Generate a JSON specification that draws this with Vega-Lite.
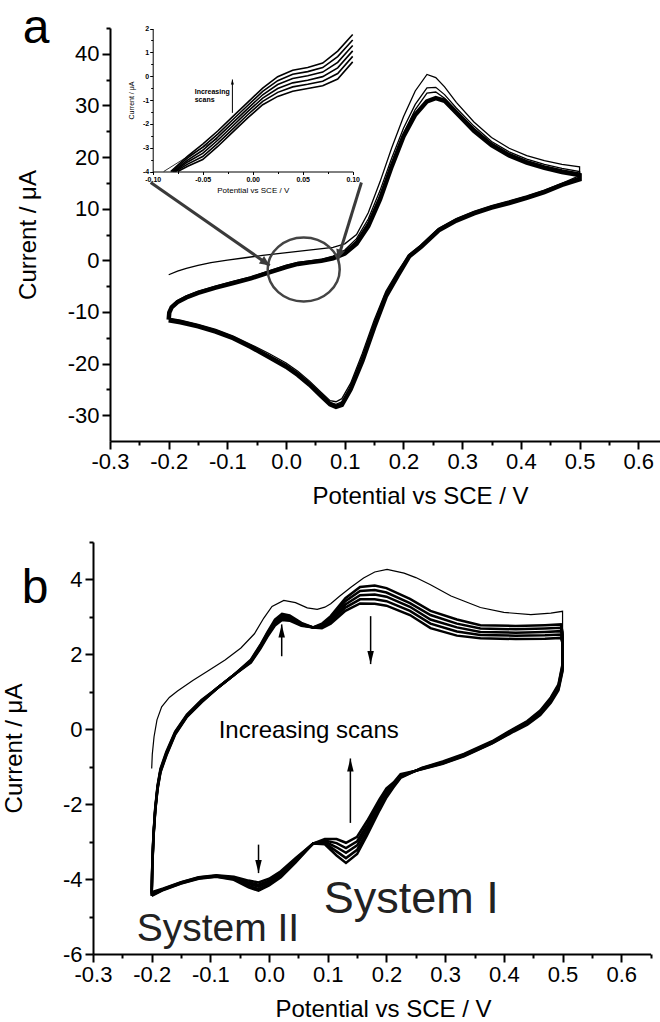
{
"$schema":"https://vega.github.io/schema/vega-lite/v6.json",
"padding":{"left":2,"top":4,"right":0,"bottom":0},
"spacing":33,
"config":{"font":"Liberation Sans","view":{"stroke":null},"axis":{"grid":false,"domainColor":"#000","tickColor":"#000","labelColor":"#000","titleColor":"#000","labelFontWeight":"normal","titleFontWeight":"normal","labelFlush":false,"labelOverlap":false,"labelBound":false}},
"datasets":{
"aCV":[
{"o":1,"v":-0.2,"s2":-11.2,"s3":-11.3,"b":-11.5},
{"o":2,"v":-0.199,"s2":-9.8,"s3":-9.9,"b":-10.1},
{"o":3,"v":-0.195,"s2":-8.8,"s3":-8.9,"b":-9.1},
{"o":4,"v":-0.185,"s2":-7.8,"s3":-7.9,"b":-8.1},
{"o":5,"v":-0.17,"s2":-6.9,"s3":-7.0,"b":-7.2},
{"o":6,"v":-0.15,"s2":-6.0,"s3":-6.1,"b":-6.3},
{"o":7,"v":-0.12,"s2":-5.0,"s3":-5.1,"b":-5.3},
{"o":8,"v":-0.09,"s2":-4.1,"s3":-4.2,"b":-4.4},
{"o":9,"v":-0.06,"s2":-3.2,"s3":-3.3,"b":-3.5},
{"o":10,"v":-0.03,"s2":-2.1,"s3":-2.2,"b":-2.4},
{"o":11,"v":0.0,"s2":-1.0,"s3":-1.1,"b":-1.3},
{"o":12,"v":0.02,"s2":-0.4,"s3":-0.5,"b":-0.7},
{"o":13,"v":0.04,"s2":-0.1,"s3":-0.2,"b":-0.4},
{"o":14,"v":0.06,"s2":0.2,"s3":0.1,"b":-0.1},
{"o":15,"v":0.08,"s2":0.8,"s3":0.6,"b":0.4},
{"o":15.01,"v":-0.2,"s1":-2.8},
{"o":15.02,"v":-0.185,"s1":-2.1},
{"o":15.03,"v":-0.17,"s1":-1.55},
{"o":15.04,"v":-0.15,"s1":-1.0},
{"o":15.05,"v":-0.128,"s1":-0.45},
{"o":15.06,"v":-0.1,"s1":0.05},
{"o":15.07,"v":-0.07,"s1":0.5},
{"o":15.08,"v":-0.04,"s1":0.95},
{"o":15.09,"v":-0.01,"s1":1.35},
{"o":15.1,"v":0.02,"s1":1.75},
{"o":15.11,"v":0.05,"s1":2.1},
{"o":15.12,"v":0.08,"s1":2.5},
{"o":16,"v":0.1,"s1":3.2,"s2":2.0,"s3":1.7,"b":1.3},
{"o":17,"v":0.12,"s1":5.0,"s2":4.2,"s3":3.8,"b":3.2},
{"o":18,"v":0.14,"s1":9.2,"s2":8.0,"s3":7.4,"b":6.6},
{"o":19,"v":0.16,"s1":15.2,"s2":13.5,"s3":12.6,"b":11.8},
{"o":20,"v":0.18,"s1":21.8,"s2":19.8,"s3":18.8,"b":18.2},
{"o":21,"v":0.2,"s1":27.8,"s2":25.6,"s3":24.6,"b":24.0},
{"o":22,"v":0.22,"s1":32.8,"s2":30.2,"s3":29.2,"b":28.2},
{"o":23,"v":0.24,"s1":36.0,"s2":33.4,"s3":32.4,"b":30.8},
{"o":24,"v":0.255,"s1":35.4,"s2":33.5,"s3":32.6,"b":31.4},
{"o":25,"v":0.27,"s1":33.6,"s2":32.1,"s3":31.4,"b":30.9},
{"o":26,"v":0.29,"s1":30.6,"s2":29.5,"s3":29.0,"b":28.6},
{"o":27,"v":0.32,"s1":26.8,"s2":26.0,"s3":25.6,"b":25.1},
{"o":28,"v":0.35,"s1":23.8,"s2":23.0,"s3":22.7,"b":22.3},
{"o":29,"v":0.38,"s1":21.7,"s2":21.0,"s3":20.7,"b":20.3},
{"o":30,"v":0.41,"s1":20.3,"s2":19.6,"s3":19.3,"b":18.9},
{"o":31,"v":0.44,"s1":19.3,"s2":18.6,"s3":18.3,"b":17.9},
{"o":32,"v":0.47,"s1":18.6,"s2":17.8,"s3":17.5,"b":17.1},
{"o":33,"v":0.5,"s1":18.1,"s2":17.2,"s3":16.9,"b":16.5},
{"o":34,"v":0.5,"s1":16.4,"s2":16.1,"s3":15.9,"b":15.7},
{"o":35,"v":0.47,"s1":14.9,"s2":14.8,"s3":14.7,"b":14.6},
{"o":36,"v":0.44,"s1":13.6,"s2":13.4,"s3":13.3,"b":13.2},
{"o":37,"v":0.41,"s1":12.5,"s2":12.3,"s3":12.2,"b":12.1},
{"o":38,"v":0.38,"s1":11.5,"s2":11.3,"s3":11.2,"b":11.1},
{"o":39,"v":0.35,"s1":10.6,"s2":10.4,"s3":10.3,"b":10.2},
{"o":40,"v":0.32,"s1":9.5,"s2":9.3,"s3":9.2,"b":9.1},
{"o":41,"v":0.29,"s1":8.1,"s2":7.9,"s3":7.8,"b":7.7},
{"o":42,"v":0.26,"s1":6.2,"s2":6.0,"s3":5.9,"b":5.8},
{"o":43,"v":0.23,"s1":3.0,"s2":2.8,"s3":2.7,"b":2.6},
{"o":44,"v":0.21,"s1":1.2,"s2":1.0,"s3":0.9,"b":0.8},
{"o":45,"v":0.19,"s1":-2.2,"s2":-2.5,"s3":-2.7,"b":-3.0},
{"o":46,"v":0.17,"s1":-6.0,"s2":-6.4,"s3":-6.7,"b":-7.0},
{"o":47,"v":0.15,"s1":-11.6,"s2":-12.2,"s3":-12.6,"b":-13.0},
{"o":48,"v":0.13,"s1":-18.0,"s2":-18.7,"s3":-19.1,"b":-19.5},
{"o":49,"v":0.11,"s1":-23.8,"s2":-24.4,"s3":-24.7,"b":-25.0},
{"o":50,"v":0.095,"s1":-26.8,"s2":-27.4,"s3":-27.7,"b":-28.0},
{"o":51,"v":0.085,"s1":-27.4,"s2":-27.9,"s3":-28.2,"b":-28.4},
{"o":52,"v":0.075,"s1":-27.2,"s2":-27.5,"s3":-27.7,"b":-27.9},
{"o":53,"v":0.06,"s1":-25.6,"s2":-25.9,"s3":-26.1,"b":-26.3},
{"o":54,"v":0.04,"s1":-23.4,"s2":-23.7,"s3":-23.9,"b":-24.1},
{"o":55,"v":0.02,"s1":-21.5,"s2":-21.8,"s3":-22.0,"b":-22.2},
{"o":56,"v":0.0,"s1":-19.9,"s2":-20.2,"s3":-20.4,"b":-20.6},
{"o":57,"v":-0.03,"s1":-18.0,"s2":-18.3,"s3":-18.5,"b":-18.7},
{"o":58,"v":-0.06,"s1":-16.3,"s2":-16.5,"s3":-16.7,"b":-16.8},
{"o":59,"v":-0.09,"s1":-14.7,"s2":-14.9,"s3":-15.0,"b":-15.1},
{"o":60,"v":-0.12,"s1":-13.4,"s2":-13.6,"s3":-13.7,"b":-13.8},
{"o":61,"v":-0.15,"s1":-12.4,"s2":-12.6,"s3":-12.7,"b":-12.8},
{"o":62,"v":-0.18,"s1":-11.6,"s2":-11.8,"s3":-11.9,"b":-12.0},
{"o":63,"v":-0.2,"s1":-11.2,"s2":-11.3,"s3":-11.5,"b":-11.6}
],
"aIn":[
{"v":-0.075,"l1":-4.0},
{"v":-0.0773,"l2":-4.0},
{"v":-0.0784,"l3":-4.0},
{"v":-0.0796,"l4":-4.0},
{"v":-0.0808,"l5":-4.0},
{"v":-0.082,"l6":-4.0},
{"v":-0.065,"l1":-3.78,"l2":-3.69,"l3":-3.6,"l4":-3.52,"l5":-3.43,"l6":-3.35},
{"v":-0.05,"l1":-3.5,"l2":-3.37,"l3":-3.24,"l4":-3.11,"l5":-2.98,"l6":-2.85},
{"v":-0.035,"l1":-2.95,"l2":-2.82,"l3":-2.69,"l4":-2.56,"l5":-2.43,"l6":-2.3},
{"v":-0.02,"l1":-2.35,"l2":-2.22,"l3":-2.09,"l4":-1.96,"l5":-1.83,"l6":-1.7},
{"v":-0.005,"l1":-1.75,"l2":-1.62,"l3":-1.49,"l4":-1.36,"l5":-1.23,"l6":-1.1},
{"v":0.01,"l1":-1.2,"l2":-1.06,"l3":-0.92,"l4":-0.78,"l5":-0.64,"l6":-0.5},
{"v":0.025,"l1":-0.85,"l2":-0.68,"l3":-0.52,"l4":-0.35,"l5":-0.19,"l6":-0.02},
{"v":0.04,"l1":-0.63,"l2":-0.45,"l3":-0.28,"l4":-0.1,"l5":0.08,"l6":0.25},
{"v":0.055,"l1":-0.52,"l2":-0.34,"l3":-0.17,"l4":0.02,"l5":0.19,"l6":0.36},
{"v":0.07,"l1":-0.4,"l2":-0.21,"l3":-0.02,"l4":0.17,"l5":0.36,"l6":0.55},
{"v":0.085,"l1":-0.12,"l2":0.11,"l3":0.35,"l4":0.58,"l5":0.82,"l6":1.05},
{"v":0.1,"l1":0.6,"l2":0.83,"l3":1.06,"l4":1.29,"l5":1.52,"l6":1.75}
],
"bCV":[
{"o":1,"v":-0.2,"a":-4.35,"b":-4.38,"c":-4.4,"d":-4.43,"e":-4.45},
{"o":2,"v":-0.199,"a":-3.6,"b":-3.63,"c":-3.65,"d":-3.68,"e":-3.7},
{"o":3,"v":-0.197,"a":-2.8,"b":-2.83,"c":-2.85,"d":-2.88,"e":-2.9},
{"o":4,"v":-0.194,"a":-2.1,"b":-2.13,"c":-2.15,"d":-2.18,"e":-2.2},
{"o":5,"v":-0.19,"a":-1.5,"b":-1.53,"c":-1.55,"d":-1.58,"e":-1.6},
{"o":6,"v":-0.185,"a":-1.05,"b":-1.08,"c":-1.1,"d":-1.13,"e":-1.15},
{"o":7,"v":-0.175,"a":-0.6,"b":-0.63,"c":-0.65,"d":-0.68,"e":-0.7},
{"o":8,"v":-0.16,"a":-0.06,"b":-0.08,"c":-0.1,"d":-0.12,"e":-0.14},
{"o":9,"v":-0.14,"a":0.39,"b":0.37,"c":0.36,"d":0.34,"e":0.33},
{"o":10,"v":-0.115,"a":0.78,"b":0.76,"c":0.75,"d":0.73,"e":0.72},
{"o":11,"v":-0.088,"a":1.1,"b":1.1,"c":1.1,"d":1.1,"e":1.1},
{"o":12,"v":-0.06,"a":1.45,"b":1.45,"c":1.45,"d":1.45,"e":1.45},
{"o":13,"v":-0.031,"a":1.78,"b":1.8,"c":1.82,"d":1.84,"e":1.86},
{"o":14,"v":-0.015,"a":2.15,"b":2.18,"c":2.2,"d":2.23,"e":2.25},
{"o":15,"v":-0.003,"a":2.47,"b":2.5,"c":2.53,"d":2.56,"e":2.59},
{"o":16,"v":0.01,"a":2.77,"b":2.81,"c":2.85,"d":2.89,"e":2.93},
{"o":17,"v":0.022,"a":2.92,"b":2.96,"c":3.0,"d":3.04,"e":3.08},
{"o":18,"v":0.035,"a":2.9,"b":2.94,"c":2.97,"d":3.0,"e":3.04},
{"o":19,"v":0.055,"a":2.76,"b":2.78,"c":2.8,"d":2.82,"e":2.84},
{"o":20,"v":0.075,"a":2.72,"b":2.72,"c":2.72,"d":2.72,"e":2.72},
{"o":21,"v":0.09,"a":2.82,"b":2.79,"c":2.76,"d":2.73,"e":2.7},
{"o":22,"v":0.105,"a":3.02,"b":2.97,"c":2.92,"d":2.87,"e":2.82},
{"o":23,"v":0.13,"a":3.5,"b":3.42,"c":3.33,"d":3.25,"e":3.16},
{"o":24,"v":0.155,"a":3.8,"b":3.69,"c":3.58,"d":3.47,"e":3.36},
{"o":25,"v":0.18,"a":3.84,"b":3.72,"c":3.6,"d":3.47,"e":3.35},
{"o":26,"v":0.2,"a":3.77,"b":3.65,"c":3.54,"d":3.42,"e":3.3},
{"o":27,"v":0.24,"a":3.48,"b":3.37,"c":3.27,"d":3.16,"e":3.05},
{"o":28,"v":0.275,"a":3.16,"b":3.05,"c":2.93,"d":2.82,"e":2.7},
{"o":29,"v":0.32,"a":2.93,"b":2.82,"c":2.72,"d":2.61,"e":2.5},
{"o":30,"v":0.36,"a":2.78,"b":2.69,"c":2.6,"d":2.52,"e":2.43},
{"o":31,"v":0.42,"a":2.76,"b":2.67,"c":2.58,"d":2.5,"e":2.41},
{"o":32,"v":0.47,"a":2.78,"b":2.69,"c":2.6,"d":2.51,"e":2.42},
{"o":33,"v":0.497,"a":2.8,"b":2.71,"c":2.62,"d":2.53,"e":2.44},
{"o":34,"v":0.5,"a":2.6,"b":2.53,"c":2.45,"d":2.38,"e":2.3},
{"o":35,"v":0.5,"a":1.75,"b":1.7,"c":1.65,"d":1.6,"e":1.55},
{"o":36,"v":0.493,"a":1.2,"b":1.16,"c":1.12,"d":1.08,"e":1.04},
{"o":37,"v":0.48,"a":0.85,"b":0.82,"c":0.78,"d":0.75,"e":0.71},
{"o":38,"v":0.462,"a":0.5,"b":0.47,"c":0.44,"d":0.41,"e":0.38},
{"o":39,"v":0.44,"a":0.22,"b":0.2,"c":0.17,"d":0.15,"e":0.12},
{"o":40,"v":0.417,"a":0.02,"b":0.0,"c":-0.02,"d":-0.04,"e":-0.06},
{"o":41,"v":0.38,"a":-0.32,"b":-0.34,"c":-0.35,"d":-0.37,"e":-0.38},
{"o":42,"v":0.332,"a":-0.66,"b":-0.68,"c":-0.69,"d":-0.71,"e":-0.72},
{"o":43,"v":0.296,"a":-0.86,"b":-0.88,"c":-0.89,"d":-0.91,"e":-0.92},
{"o":44,"v":0.26,"a":-1.03,"b":-1.04,"c":-1.05,"d":-1.06,"e":-1.07},
{"o":45,"v":0.224,"a":-1.3,"b":-1.28,"c":-1.25,"d":-1.23,"e":-1.2},
{"o":45.5,"v":0.212,"a":-1.55,"b":-1.52,"c":-1.48,"d":-1.45,"e":-1.42},
{"o":46,"v":0.2,"a":-1.82,"b":-1.76,"c":-1.7,"d":-1.64,"e":-1.58},
{"o":47,"v":0.188,"a":-2.17,"b":-2.1,"c":-2.02,"d":-1.95,"e":-1.87},
{"o":48,"v":0.167,"a":-2.83,"b":-2.74,"c":-2.64,"d":-2.55,"e":-2.45},
{"o":49,"v":0.15,"a":-3.33,"b":-3.22,"c":-3.1,"d":-2.99,"e":-2.87},
{"o":50,"v":0.131,"a":-3.57,"b":-3.44,"c":-3.3,"d":-3.17,"e":-3.03},
{"o":51,"v":0.115,"a":-3.37,"b":-3.26,"c":-3.15,"d":-3.04,"e":-2.93},
{"o":52,"v":0.095,"a":-3.07,"b":-3.04,"c":-3.0,"d":-2.97,"e":-2.93},
{"o":53,"v":0.075,"a":-3.05,"b":-3.05,"c":-3.05,"d":-3.05,"e":-3.05},
{"o":54,"v":0.045,"a":-3.44,"b":-3.47,"c":-3.5,"d":-3.53,"e":-3.56},
{"o":55,"v":0.02,"a":-3.79,"b":-3.83,"c":-3.87,"d":-3.91,"e":-3.95},
{"o":56,"v":0.0,"a":-3.99,"b":-4.04,"c":-4.08,"d":-4.13,"e":-4.17},
{"o":57,"v":-0.018,"a":-4.09,"b":-4.15,"c":-4.2,"d":-4.26,"e":-4.31},
{"o":58,"v":-0.035,"a":-4.04,"b":-4.09,"c":-4.13,"d":-4.18,"e":-4.22},
{"o":59,"v":-0.06,"a":-3.94,"b":-3.96,"c":-3.98,"d":-4.0,"e":-4.02},
{"o":60,"v":-0.09,"a":-3.9,"b":-3.91,"c":-3.92,"d":-3.93,"e":-3.94},
{"o":61,"v":-0.12,"a":-3.95,"b":-3.96,"c":-3.97,"d":-3.98,"e":-3.99},
{"o":62,"v":-0.15,"a":-4.08,"b":-4.09,"c":-4.1,"d":-4.11,"e":-4.12},
{"o":63,"v":-0.18,"a":-4.25,"b":-4.26,"c":-4.27,"d":-4.28,"e":-4.29},
{"o":64,"v":-0.2,"a":-4.35,"b":-4.38,"c":-4.4,"d":-4.43,"e":-4.45}
],
"bS":[
{"o":1,"v":-0.2,"i":-1.05},{"o":2,"v":-0.199,"i":-0.67},{"o":3,"v":-0.196,"i":-0.2},{"o":4,"v":-0.191,"i":0.25},
{"o":5,"v":-0.183,"i":0.6},{"o":6,"v":-0.17,"i":0.85},{"o":7,"v":-0.156,"i":1.02},{"o":8,"v":-0.13,"i":1.3},
{"o":9,"v":-0.105,"i":1.55},{"o":10,"v":-0.075,"i":1.85},{"o":11,"v":-0.048,"i":2.17},{"o":12,"v":-0.025,"i":2.55},
{"o":13,"v":-0.009,"i":2.97},{"o":14,"v":0.005,"i":3.28},{"o":15,"v":0.025,"i":3.44},{"o":16,"v":0.045,"i":3.38},
{"o":17,"v":0.065,"i":3.24},{"o":18,"v":0.082,"i":3.2},{"o":19,"v":0.095,"i":3.26},{"o":20,"v":0.105,"i":3.35},
{"o":21,"v":0.12,"i":3.55},{"o":22,"v":0.14,"i":3.8},{"o":23,"v":0.161,"i":4.04},{"o":24,"v":0.18,"i":4.2},
{"o":25,"v":0.201,"i":4.27},{"o":26,"v":0.23,"i":4.17},{"o":27,"v":0.25,"i":4.05},{"o":28,"v":0.275,"i":3.86},
{"o":29,"v":0.31,"i":3.56},{"o":30,"v":0.36,"i":3.25},{"o":31,"v":0.4,"i":3.12},{"o":32,"v":0.446,"i":3.06},
{"o":33,"v":0.48,"i":3.1},{"o":34,"v":0.5,"i":3.15},{"o":35,"v":0.5,"i":1.75}
],
"bArr":[
{"v":0.0215,"i":1.95,"i2":2.8,"dir":"up"},
{"v":0.173,"i":3.02,"i2":1.74,"dir":"down"},
{"v":0.1385,"i":-2.5,"i2":-0.78,"dir":"up"},
{"v":-0.018,"i":-3.08,"i2":-3.84,"dir":"down"}
]
},
"vconcat":[
{
"width":567,"height":413,
"resolve":{"scale":{"x":"independent","y":"independent"},"axis":{"x":"independent","y":"independent"}},
"layer":[
{"data":{"name":"aCV"},
 "transform":[{"fold":["s1","s2","s3"],"as":["scan","i"]},{"filter":"isValid(datum.i)"}],
 "mark":{"type":"line","color":"#000","strokeWidth":1.3},
 "encoding":{
  "x":{"field":"v","type":"quantitative","scale":{"domain":[-0.3,0.637],"range":[17,567],"nice":false,"zero":false},
   "axis":{"orient":"bottom","values":[-0.3,-0.2,-0.1,0,0.1,0.2,0.3,0.4,0.5,0.6],"labelExpr":"(datum.value < -0.001 ? '-' : '') + format(abs(datum.value), '.1f')","tickSize":8,"tickWidth":2,"domainWidth":2,"labelFontSize":22,"labelPadding":2,"title":"Potential vs SCE / V","titleFontSize":24,"titlePadding":12,"titleX":327}},
  "y":{"field":"i","type":"quantitative","scale":{"domain":[-35,45],"nice":false,"zero":false},
   "axis":{"orient":"left","offset":-17,"values":[-30,-20,-10,0,10,20,30,40],"labelExpr":"(datum.value < 0 ? '-' : '') + format(abs(datum.value), 'd')","tickSize":8,"tickWidth":2,"domainWidth":2,"labelFontSize":22,"labelPadding":3,"title":"Current / μA","titleFontSize":24,"titlePadding":27}},
  "detail":{"field":"scan"},
  "order":{"field":"o","type":"quantitative"}}},
{"data":{"name":"aCV"},
 "transform":[{"filter":"isValid(datum.b)"}],
 "mark":{"type":"line","color":"#000","strokeWidth":4.5},
 "encoding":{
  "x":{"field":"v","type":"quantitative","scale":{"domain":[-0.3,0.637],"range":[17,567],"nice":false,"zero":false},
   "axis":{"orient":"bottom","values":[-0.25,-0.15,-0.05,0.05,0.15,0.25,0.35,0.45,0.55],"labels":false,"domain":false,"tickSize":4,"tickWidth":2,"title":null}},
  "y":{"field":"b","type":"quantitative","scale":{"domain":[-35,45],"nice":false,"zero":false},
   "axis":{"orient":"left","offset":-17,"values":[-25,-15,-5,5,15,25,35,45],"labels":false,"domain":false,"tickSize":4,"tickWidth":2,"title":null}},
  "order":{"field":"o","type":"quantitative"}}},
{"data":{"values":[{"v":0.03,"i":-1.78}]},
 "mark":{"type":"point","shape":"M-1,0A1,0.89,0,1,1,1,0A1,0.89,0,1,1,-1,0Z","size":5184,"color":"#444","strokeWidth":2.5,"filled":false,"opacity":1},
 "encoding":{
  "x":{"field":"v","type":"quantitative","scale":{"domain":[-0.3,0.637],"range":[17,567],"nice":false,"zero":false},"axis":null},
  "y":{"field":"i","type":"quantitative","scale":{"domain":[-35,45],"nice":false,"zero":false},"axis":null}}},
{"data":{"values":[{"v":-0.2307,"i":15.07,"v2":-0.028,"i2":-1.0},{"v":0.1283,"i":15.07,"v2":0.0879,"i2":0.16}]},
 "mark":{"type":"rule","color":"#3a3a3a","strokeWidth":3},
 "encoding":{
  "x":{"field":"v","type":"quantitative","scale":{"domain":[-0.3,0.637],"range":[17,567],"nice":false,"zero":false},"axis":null},
  "y":{"field":"i","type":"quantitative","scale":{"domain":[-35,45],"nice":false,"zero":false},"axis":null},
  "x2":{"field":"v2"},"y2":{"field":"i2"}}},
{"data":{"values":[{"v":-0.028,"i":-1.0}]},
 "mark":{"type":"point","shape":"M0,0L-1,0.45L-1,-0.45Z","size":400,"angle":35,"filled":true,"color":"#3a3a3a","opacity":1},
 "encoding":{
  "x":{"field":"v","type":"quantitative","scale":{"domain":[-0.3,0.637],"range":[17,567],"nice":false,"zero":false},"axis":null},
  "y":{"field":"i","type":"quantitative","scale":{"domain":[-35,45],"nice":false,"zero":false},"axis":null}}},
{"data":{"values":[{"v":0.0879,"i":0.16}]},
 "mark":{"type":"point","shape":"M0,0L-1,0.45L-1,-0.45Z","size":400,"angle":107,"filled":true,"color":"#3a3a3a","opacity":1},
 "encoding":{
  "x":{"field":"v","type":"quantitative","scale":{"domain":[-0.3,0.637],"range":[17,567],"nice":false,"zero":false},"axis":null},
  "y":{"field":"i","type":"quantitative","scale":{"domain":[-35,45],"nice":false,"zero":false},"axis":null}}},
{"data":{"name":"aIn"},
 "transform":[{"fold":["l1","l2","l3","l4","l5","l6"],"as":["ln","iv"]},{"filter":"isValid(datum.iv)"}],
 "mark":{"type":"line","color":"#000","strokeWidth":1.6},
 "encoding":{
  "x":{"field":"v","type":"quantitative","scale":{"domain":[-0.1,0.1],"range":[59.7,259.7],"nice":false,"zero":false},
   "axis":{"orient":"bottom","offset":-269.5,"values":[-0.1,-0.05,0,0.05,0.1],"labelExpr":"(datum.value < -0.001 ? '-' : '') + format(abs(datum.value), '.2f')","tickSize":3,"tickWidth":1,"domainWidth":1,"labelFontSize":7,"labelFontWeight":"bold","labelPadding":1,"title":"Potential vs SCE / V","titleFontSize":8,"titlePadding":4}},
  "y":{"field":"iv","type":"quantitative","scale":{"domain":[-4,2],"range":[143.5,0.5],"nice":false,"zero":false},
   "axis":{"orient":"left","offset":-59.7,"values":[-4,-3,-2,-1,0,1,2],"labelExpr":"(datum.value < 0 ? '-' : '') + format(abs(datum.value), 'd')","tickSize":3,"tickWidth":1,"domainWidth":1,"labelFontSize":7,"labelFontWeight":"bold","labelPadding":1,"title":"Current / μA","titleFontSize":7,"titlePadding":8}},
  "detail":{"field":"ln"}}},
{"data":{"values":[{"v":-0.089,"i":-4.0},{"v":-0.07,"i":-3.5},{"v":-0.05,"i":-3.0},{"v":-0.035,"i":-2.62}]},
 "mark":{"type":"line","color":"#000","strokeWidth":0.8},
 "encoding":{
  "x":{"field":"v","type":"quantitative","scale":{"domain":[-0.1,0.1],"range":[59.7,259.7],"nice":false,"zero":false},
   "axis":{"orient":"bottom","offset":-269.5,"values":[-0.075,-0.025,0.025,0.075],"labels":false,"domain":false,"tickSize":2,"tickWidth":1,"title":null}},
  "y":{"field":"i","type":"quantitative","scale":{"domain":[-4,2],"range":[143.5,0.5],"nice":false,"zero":false},
   "axis":{"orient":"left","offset":-59.7,"values":[-3.5,-2.5,-1.5,-0.5,0.5,1.5],"labels":false,"domain":false,"tickSize":2,"tickWidth":1,"title":null}}}},
{"data":{"values":[{"v":-0.058,"i":-0.75,"t":"Increasing scans"}]},
 "mark":{"type":"text","align":"left","baseline":"alphabetic","fontSize":7,"fontWeight":"bold","lineBreak":" ","lineHeight":8,"color":"#000"},
 "encoding":{
  "x":{"field":"v","type":"quantitative","scale":{"domain":[-0.1,0.1],"range":[59.7,259.7],"nice":false,"zero":false},"axis":null},
  "y":{"field":"i","type":"quantitative","scale":{"domain":[-4,2],"range":[143.5,0.5],"nice":false,"zero":false},"axis":null},
  "text":{"field":"t"}}},
{"data":{"values":[{"v":-0.0203,"i":-1.54,"i2":-0.14}]},
 "mark":{"type":"rule","color":"#000","strokeWidth":1},
 "encoding":{
  "x":{"field":"v","type":"quantitative","scale":{"domain":[-0.1,0.1],"range":[59.7,259.7],"nice":false,"zero":false},"axis":null},
  "y":{"field":"i","type":"quantitative","scale":{"domain":[-4,2],"range":[143.5,0.5],"nice":false,"zero":false},"axis":null},
  "y2":{"field":"i2"}}},
{"data":{"values":[{"v":-0.0203,"i":-0.14}]},
 "mark":{"type":"point","shape":"M0,0L0.3,1L-0.3,1Z","size":100,"filled":true,"color":"#000","opacity":1},
 "encoding":{
  "x":{"field":"v","type":"quantitative","scale":{"domain":[-0.1,0.1],"range":[59.7,259.7],"nice":false,"zero":false},"axis":null},
  "y":{"field":"i","type":"quantitative","scale":{"domain":[-4,2],"range":[143.5,0.5],"nice":false,"zero":false},"axis":null}}},
{"data":{"values":[{"v":-0.4487,"i":42.19,"t":"a"}]},
 "mark":{"type":"text","align":"left","baseline":"alphabetic","fontSize":48,"color":"#000"},
 "encoding":{
  "x":{"field":"v","type":"quantitative","scale":{"domain":[-0.3,0.637],"range":[17,567],"nice":false,"zero":false},"axis":null},
  "y":{"field":"i","type":"quantitative","scale":{"domain":[-35,45],"nice":false,"zero":false},"axis":null},
  "text":{"field":"t"}}}
]},
{
"width":557.6,"height":412,
"resolve":{"scale":{"x":"independent","y":"independent"},"axis":{"x":"independent","y":"independent"}},
"layer":[
{"data":{"name":"bCV"},
 "transform":[{"fold":["a","b","c","d","e"],"as":["scan","i"]}],
 "mark":{"type":"line","color":"#000","strokeWidth":2.5},
 "encoding":{
  "x":{"field":"v","type":"quantitative","scale":{"domain":[-0.3,0.65],"nice":false,"zero":false},
   "axis":{"orient":"bottom","values":[-0.3,-0.2,-0.1,0,0.1,0.2,0.3,0.4,0.5,0.6],"labelExpr":"(datum.value < -0.001 ? '-' : '') + format(abs(datum.value), '.1f')","tickSize":8,"tickWidth":2,"domainWidth":2,"labelFontSize":22,"labelPadding":2,"title":"Potential vs SCE / V","titleFontSize":24,"titlePadding":12,"titleX":290}},
  "y":{"field":"i","type":"quantitative","scale":{"domain":[-6,5],"nice":false,"zero":false},
   "axis":{"orient":"left","values":[-6,-4,-2,0,2,4],"labelExpr":"(datum.value < 0 ? '-' : '') + format(abs(datum.value), 'd')","tickSize":8,"tickWidth":2,"domainWidth":2,"labelFontSize":22,"labelPadding":3,"title":"Current / μA","titleFontSize":24,"titlePadding":36}},
  "detail":{"field":"scan"},
  "order":{"field":"o","type":"quantitative"}}},
{"data":{"name":"bS"},
 "mark":{"type":"line","color":"#000","strokeWidth":1.2},
 "encoding":{
  "x":{"field":"v","type":"quantitative","scale":{"domain":[-0.3,0.65],"nice":false,"zero":false},
   "axis":{"orient":"bottom","values":[-0.25,-0.15,-0.05,0.05,0.15,0.25,0.35,0.45,0.55,0.65],"labels":false,"domain":false,"tickSize":4,"tickWidth":2,"title":null}},
  "y":{"field":"i","type":"quantitative","scale":{"domain":[-6,5],"nice":false,"zero":false},
   "axis":{"orient":"left","values":[-5,-3,-1,1,3,5],"labels":false,"domain":false,"tickSize":4,"tickWidth":2,"title":null}},
  "order":{"field":"o","type":"quantitative"}}},
{"data":{"name":"bArr"},
 "mark":{"type":"rule","color":"#000","strokeWidth":1.5},
 "encoding":{
  "x":{"field":"v","type":"quantitative","scale":{"domain":[-0.3,0.65],"nice":false,"zero":false},"axis":null},
  "y":{"field":"i","type":"quantitative","scale":{"domain":[-6,5],"nice":false,"zero":false},"axis":null},
  "y2":{"field":"i2"}}},
{"data":{"name":"bArr"},
 "mark":{"type":"point","size":676,"filled":true,"color":"#000","opacity":1},
 "encoding":{
  "x":{"field":"v","type":"quantitative","scale":{"domain":[-0.3,0.65],"nice":false,"zero":false},"axis":null},
  "y":{"field":"i2","type":"quantitative","scale":{"domain":[-6,5],"nice":false,"zero":false},"axis":null},
  "shape":{"field":"dir","type":"nominal","scale":{"domain":["up","down"],"range":["M0,0L0.25,1L-0.25,1Z","M0,0L0.25,-1L-0.25,-1Z"]},"legend":null}}},
{"data":{"values":[{"v":-0.0859,"i":-0.24,"t":"Increasing scans"}]},
 "mark":{"type":"text","align":"left","baseline":"alphabetic","fontSize":24,"color":"#000"},
 "encoding":{
  "x":{"field":"v","type":"quantitative","scale":{"domain":[-0.3,0.65],"nice":false,"zero":false},"axis":null},
  "y":{"field":"i","type":"quantitative","scale":{"domain":[-6,5],"nice":false,"zero":false},"axis":null},
  "text":{"field":"t"}}},
{"data":{"values":[{"v":0.093,"i":-4.91,"t":"System I"}]},
 "mark":{"type":"text","align":"left","baseline":"alphabetic","fontSize":45,"color":"#222"},
 "encoding":{
  "x":{"field":"v","type":"quantitative","scale":{"domain":[-0.3,0.65],"nice":false,"zero":false},"axis":null},
  "y":{"field":"i","type":"quantitative","scale":{"domain":[-6,5],"nice":false,"zero":false},"axis":null},
  "text":{"field":"t"}}},
{"data":{"values":[{"v":-0.2256,"i":-5.66,"t":"System II"}]},
 "mark":{"type":"text","align":"left","baseline":"alphabetic","fontSize":39,"color":"#222"},
 "encoding":{
  "x":{"field":"v","type":"quantitative","scale":{"domain":[-0.3,0.65],"nice":false,"zero":false},"axis":null},
  "y":{"field":"i","type":"quantitative","scale":{"domain":[-6,5],"nice":false,"zero":false},"axis":null},
  "text":{"field":"t"}}},
{"data":{"values":[{"v":-0.4215,"i":3.36,"t":"b"}]},
 "mark":{"type":"text","align":"left","baseline":"alphabetic","fontSize":48,"color":"#000"},
 "encoding":{
  "x":{"field":"v","type":"quantitative","scale":{"domain":[-0.3,0.65],"nice":false,"zero":false},"axis":null},
  "y":{"field":"i","type":"quantitative","scale":{"domain":[-6,5],"nice":false,"zero":false},"axis":null},
  "text":{"field":"t"}}}
]}
]
}
